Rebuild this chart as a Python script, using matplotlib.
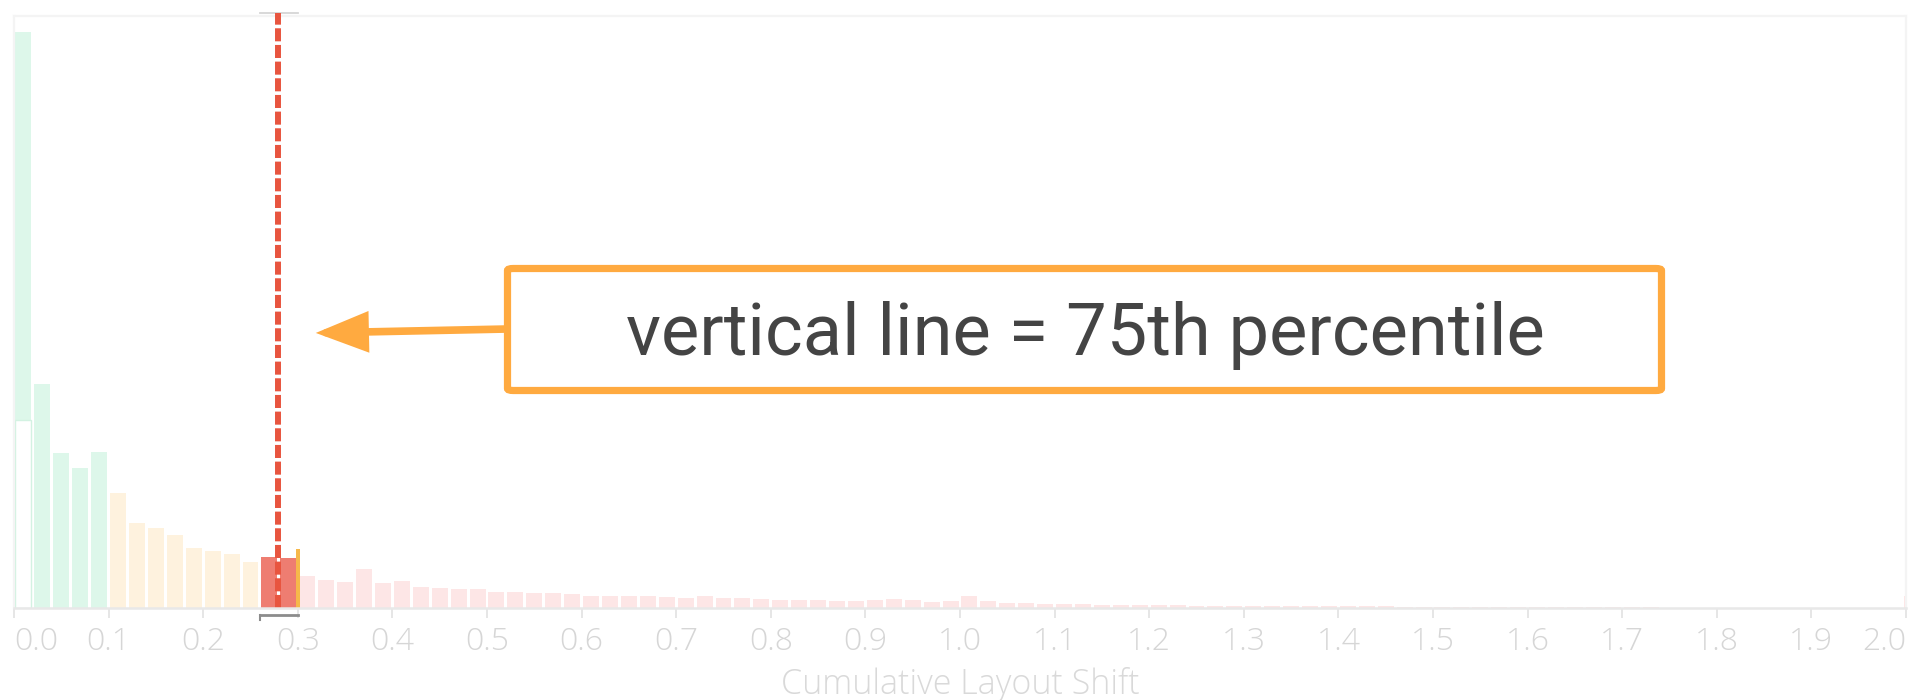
import numpy as np
import matplotlib.pyplot as plt
from matplotlib.patches import FancyBboxPatch, FancyArrowPatch
import matplotlib.transforms as mtransforms

plt.rcParams['lines.scale_dashes'] = False

bin_width = 0.02
bin_starts = np.round(np.arange(0, 2.0, bin_width), 2)

# bar heights (no y scale is shown, arbitrary units)
good_heights = [576, 224, 155, 140, 156]
needs_work_heights = [115, 85, 80, 73, 60, 57, 54, 46]
poor_heights = [51, 50, 32, 28.5, 26, 39, 25, 27.5, 21, 20, 19, 19,
                16.5, 16.5, 15, 15, 14.5, 12.5, 12.5, 12, 11.7, 10.7,
                10.5, 11.7, 10, 10, 9, 8, 8, 7.7, 6.7, 6.7,
                7.7, 8.7, 7.7, 6.4, 6.7, 12.4, 6.7, 4.7, 4.7, 4.4,
                3.7, 3.7, 3.0, 2.7, 2.7, 2.7, 2.7, 2.4, 2.0, 2.4,
                2.0, 2.0, 2.2, 1.8, 1.8, 1.8, 1.6, 1.6, 1.5, 1.5,
                1.3, 1.3, 1.2, 1.2, 1.2, 1.1, 1.0, 1.0, 1.0, 0.9,
                0.6, 0.6, 0.5, 0.5, 0.5, 0.5, 0.5, 0.5, 0.4, 0.4,
                0.4, 0.4, 0.4, 0.4, 0.4]
zero_bin_lower = 188      # lower, unfilled part of the first bar
overflow_height = 12      # the 2.0+ sliver at the right edge
marker_height = 59        # thin orange bar at 0.30
p75_bins = [0.26, 0.28]
p75_value = 0.279
x_ticks = np.round(np.arange(0, 2.01, 0.1), 1)
x_label = 'Cumulative Layout Shift'
note = 'vertical line = 75th percentile'

heights = good_heights + needs_work_heights + poor_heights

col_good = '#ddf7ea'
col_needs = '#fef2de'
col_poor = '#fde6e6'
col_p75 = '#ee7d71'
orange = '#ffaa40'

colors = []
for b in bin_starts:
    if b in p75_bins:
        colors.append(col_p75)
    elif b < 0.1:
        colors.append(col_good)
    elif b < 0.25:
        colors.append(col_needs)
    else:
        colors.append(col_poor)

W, H = 1913, 700
fig = plt.figure(figsize=(W / 100, H / 100), dpi=100)
left, right, top, bottom = 14, 1906, 16, 608
ax = fig.add_axes([left / W, 1 - bottom / H, (right - left) / W, (bottom - top) / H])

ax.bar(bin_starts + bin_width / 2, heights, width=0.0169, color=colors, zorder=2)
# first bar: lower part drawn open
ax.bar(bin_starts[0] + bin_width / 2, zero_bin_lower, width=0.0169, color='white',
       edgecolor='#d3f2e2', linewidth=1, zorder=2.1)
ax.bar(0.298, marker_height, width=0.0045, align='edge', color='#f6b84a', zorder=2.2)
ax.bar(2.0, overflow_height, width=0.005, color=col_poor, zorder=2)

ax.set_xlim(0, 2.0)
ax.set_ylim(0, bottom - top)

# 75th percentile line
trans = mtransforms.blended_transform_factory(ax.transData, ax.transAxes)
ax.plot([p75_value, p75_value], [0, 1.005], transform=trans, color='white',
        lw=1.4, zorder=3, clip_on=False)
ax.plot([p75_value, p75_value], [0, 1.005], transform=trans, color='#e8553f',
        lw=4.3, dashes=(9.4, 2.6), zorder=3.1, clip_on=False,
        dash_capstyle='butt')

# range brackets for the p75 bins
ax.plot([p75_bins[0], p75_bins[-1] + bin_width], [1.005, 1.005], transform=trans,
        color='#d6d6d6', lw=1.3, clip_on=False, zorder=3)
ax.plot([p75_bins[0], p75_bins[-1] + bin_width], [-0.012, -0.012], transform=trans,
        color='#8c8c8c', lw=2, clip_on=False, zorder=3)
ax.plot([p75_bins[0], p75_bins[0]], [-0.012, -0.021], transform=trans,
        color='#8c8c8c', lw=1.5, clip_on=False, zorder=3)

for s in ['left', 'top', 'right']:
    ax.spines[s].set_color('#f4f4f4')
    ax.spines[s].set_linewidth(1.6)
ax.spines['bottom'].set_color('#e8e8e8')
ax.spines['bottom'].set_linewidth(1.8)
ax.spines['bottom'].set_zorder(4)

ax.set_yticks([])
ax.set_xticks(x_ticks)
ax.set_xticklabels([f'{t:.1f}' for t in x_ticks])
ax.tick_params(axis='x', length=7.5, width=1.2, color='#e2e2e2', pad=5.5,
               labelsize=23, labelcolor='#d6d6d6')
for lab in ax.get_xticklabels():
    lab.set_family('Open Sans')
    lab.set_weight('light')
ticklabels = ax.get_xticklabels()
ticklabels[0].set_ha('left')
ticklabels[-1].set_ha('right')

ax.set_xlabel(x_label, fontsize=24.5, color='#d9d9d9', family='Open Sans', weight='light')
ax.xaxis.set_label_coords(0.5, -0.1)
ax.xaxis.label.set_va('top')

# annotation box
bx0, by0, bx1, by1 = 507.5, 268.5, 1661.5, 390.5
box = FancyBboxPatch((bx0 / W, 1 - by1 / H), (bx1 - bx0) / W, (by1 - by0) / H,
                     boxstyle='round,pad=0,rounding_size=0.003', transform=fig.transFigure,
                     facecolor='white', edgecolor=orange, linewidth=5.2, zorder=5)
fig.patches.append(box)
fig.text(1085 / W, 1 - 355 / H, note, ha='center', va='baseline', fontsize=52,
         family='Roboto', color='#444444', zorder=6)

arrow = FancyArrowPatch((bx0 / W, 1 - 329 / H), (313 / W, 1 - 333 / H),
                        transform=fig.transFigure,
                        arrowstyle='-|>,head_length=28,head_width=11', mutation_scale=1,
                        color=orange, linewidth=5.5, joinstyle='miter', zorder=5)
fig.patches.append(arrow)

fig.savefig('out.png', dpi=100, facecolor='white')
